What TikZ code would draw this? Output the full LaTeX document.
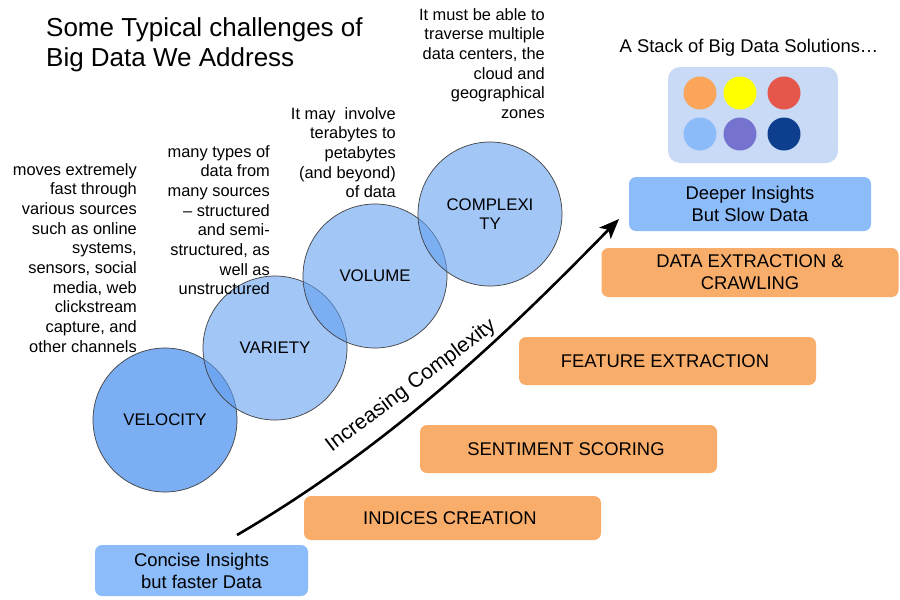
\documentclass[tikz,border=0pt]{standalone}
\usepackage{fontspec}
\setmainfont{Liberation Sans}
\usetikzlibrary{arrows.meta,positioning}
\usepackage{xcolor}

\definecolor{bubbleblue}{RGB}{100,160,240}
\definecolor{stackorange}{RGB}{249,173,106}
\definecolor{insightblue}{RGB}{140,188,249}
\definecolor{paletteblue}{RGB}{200,218,245}

\begin{document}
\begin{tikzpicture}[x=1pt, y=-1pt, every node/.style={
    inner sep=0pt,
    font=\fontsize{16.4}{19.7}\selectfont
},
bubble/.style={
    circle,
    minimum size=144pt,
    draw=black!75,
    line width=0.7pt,
    fill=bubbleblue,
    fill opacity=0.6,
    text opacity=1,
    align=center,
    font=\fontsize{16.8}{19}\selectfont
},
stackbox/.style={
    rectangle,
    rounded corners=7pt,
    fill=stackorange,
    minimum width=297pt,
    minimum height=48pt,
    align=center,
    font=\fontsize{18.4}{22}\selectfont
},
insightbox/.style={
    rectangle,
    rounded corners=7pt,
    fill=insightblue,
    align=center,
    font=\fontsize{18.4}{22}\selectfont
},
note/.style={align=right, anchor=north east},
dot/.style={circle, minimum size=33pt}]
    \useasboundingbox (0,0) rectangle (900,600);
    \fill[white] (0,0) rectangle (900,600);

    \node (title) [anchor=north west, align=left, shift={(46,17)},
        font=\fontsize{26}{30}\selectfont]
    {
        Some Typical challenges of\\Big Data We Address
    };

    % the four V bubbles
    \node (velocity) [bubble, fill opacity=0.85, shift={(165,420)}] {VELOCITY};
    \node (variety) [bubble, shift={(275,348)}] {VARIETY};
    \node (volume) [bubble, shift={(375,276)}] {VOLUME};
    \node (complexity) [bubble, shift={(490,214)}] {COMPLEXI\\TY};

    \node (velocity_note) [note, shift={(137,163)}]
    {
        moves extremely\\fast through\\various sources\\such as online\\systems,\\sensors, social\\media, web\\clickstream\\capture, and\\other channels
    };
    \node (variety_note) [note, shift={(270,145)}]
    {
        many types of\\data from\\many sources\\-- structured\\and semi-\\structured, as\\well as\\unstructured
    };
    \node (volume_note) [note, shift={(396,107)}]
    {
        It may\ \ involve\\terabytes to\\petabytes\\(and beyond)\\of data
    };
    \node (complexity_note) [note, shift={(545,8)}]
    {
        It must be able to\\traverse multiple\\data centers, the\\cloud and\\geographical\\zones
    };

    % stack of solutions
    \node (stack_title) [shift={(749,48)}, font=\fontsize{18.4}{20}\selectfont]
    {
        A Stack of Big Data Solutions\ldots
    };
    \node (palette) [rectangle, rounded corners=12pt, fill=paletteblue,
        minimum width=170pt, minimum height=96pt, shift={(753,115)}] {};
    \node (dot_orange) [dot, fill={rgb,255:red,250;green,165;blue,90}, shift={(700,93)}] {};
    \node (dot_yellow) [dot, fill={rgb,255:red,255;green,255;blue,0}, shift={(740,93)}] {};
    \node (dot_red) [dot, fill={rgb,255:red,229;green,87;blue,74}, shift={(784,93)}] {};
    \node (dot_lightblue) [dot, fill={rgb,255:red,139;green,188;blue,249}, shift={(700,134)}] {};
    \node (dot_purple) [dot, fill={rgb,255:red,118;green,114;blue,208}, shift={(740,134)}] {};
    \node (dot_darkblue) [dot, fill={rgb,255:red,13;green,63;blue,142}, shift={(784,134)}] {};

    \node (deeper_insights) [insightbox, minimum width=242pt, minimum height=54pt,
        shift={(750,204)}]
    {
        Deeper Insights\\But Slow Data
    };
    \node (data_extraction) [stackbox, minimum height=49pt, shift={(750,272.5)}]
    {
        DATA EXTRACTION \&\\CRAWLING
    };
    \node (feature_extraction) [stackbox, shift={(667.5,361)}]
    {
        FEATURE EXTRACTION
    };
    \node (sentiment_scoring) [stackbox, shift={(568.5,449)}]
    {
        SENTIMENT SCORING
    };
    \node (indices_creation) [stackbox, minimum height=44pt, shift={(452.5,518)}]
    {
        INDICES CREATION
    };
    \node (concise_insights) [insightbox, minimum width=213pt, minimum height=51pt,
        shift={(201.5,570.5)}]
    {
        Concise Insights\\but faster Data
    };

    \coordinate (arrow_start) at (237,535);
    \coordinate (arrow_end) at (619,219);
    \draw[-{Stealth[length=20pt,width=16pt,inset=5pt]}, line width=2.6pt]
        (arrow_start) .. controls (400,440) and (520,320) .. (arrow_end);
    \node (complexity_label) [shift={(411,386)}, rotate=37,
        font=\fontsize{21}{23}\selectfont]
    {
        Increasing Complexity
    };
\end{tikzpicture}
\end{document}
